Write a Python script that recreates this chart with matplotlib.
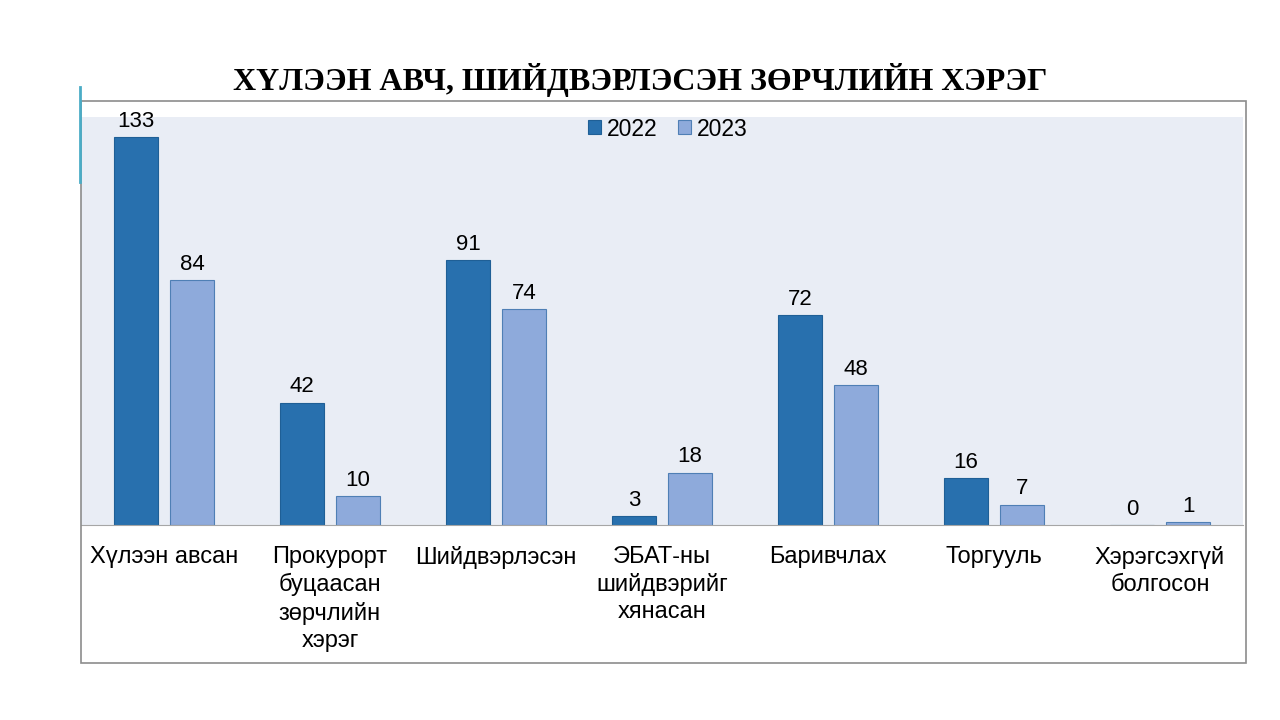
import matplotlib.pyplot as plt
import numpy as np
from matplotlib.patches import Rectangle
from matplotlib.lines import Line2D

categories = ['Хүлээн авсан', 'Прокурорт\nбуцаасан\nзөрчлийн\nхэрэг', 'Шийдвэрлэсэн',
              'ЭБАТ-ны\nшийдвэрийг\nхянасан', 'Баривчлах', 'Торгууль', 'Хэрэгсэхгүй\nболгосон']
years = ['2022', '2023']
values_2022 = [133, 42, 91, 3, 72, 16, 0]
values_2023 = [84, 10, 74, 18, 48, 7, 1]

plt.rcParams['font.family'] = ['Liberation Sans', 'DejaVu Sans']

W, H = 1280, 720
fig = plt.figure(figsize=(12.8, 7.2), dpi=100)

# chart area border and small teal accent line
fig.add_artist(Rectangle((81 / W, 1 - 663 / H), (1246 - 81) / W, (663 - 101) / H,
                         transform=fig.transFigure, fill=False, edgecolor='#8c8c8c', lw=1.2))
fig.add_artist(Line2D([80 / W, 80 / W], [1 - 87 / H, 1 - 182 / H],
                      transform=fig.transFigure, color='#4BACC6', lw=2))

ax = fig.add_axes([81 / W, 1 - 525 / H, (1243 - 81) / W, (525 - 117) / H])
ax.set_facecolor('#E9EDF5')

x = np.arange(len(categories))
w = 0.27
off = 0.169
b1 = ax.bar(x - off, values_2022, w, color='#2870AE', edgecolor='#1F5F96', lw=0.8, label=years[0])
b2 = ax.bar(x + off, values_2023, w, color='#8EAADB', edgecolor='#4F7FB5', lw=0.8, label=years[1])

for bars in (b1, b2):
    for r in bars:
        ax.text(r.get_x() + r.get_width() / 2, r.get_height() + 1.8, f'{int(r.get_height())}',
                ha='center', va='bottom', fontsize=16)

ax.set_xlim(-0.5, len(categories) - 0.5)
ax.set_ylim(0, 140)
ax.set_yticks([])
ax.set_xticks(x)
ax.set_xticklabels(categories, fontsize=17, linespacing=1.3, va='top')
ax.tick_params(axis='x', length=0, pad=15)
for s in ['top', 'right', 'left']:
    ax.spines[s].set_visible(False)
ax.spines['bottom'].set_color('#a6a6a6')

ax.legend(loc='center', bbox_to_anchor=(0.505, 1 - 12 / 408), ncol=2, frameon=False,
          fontsize=16.5, handlelength=0.55, handleheight=0.55, handletextpad=0.25, columnspacing=0.9)

fig.text(640 / W, 1 - 80 / H, 'ХҮЛЭЭН АВЧ, ШИЙДВЭРЛЭСЭН ЗӨРЧЛИЙН ХЭРЭГ', ha='center', va='center',
         fontsize=23, fontweight='bold', family=['Liberation Serif', 'DejaVu Serif'])

fig.savefig('out.png', dpi=100)
